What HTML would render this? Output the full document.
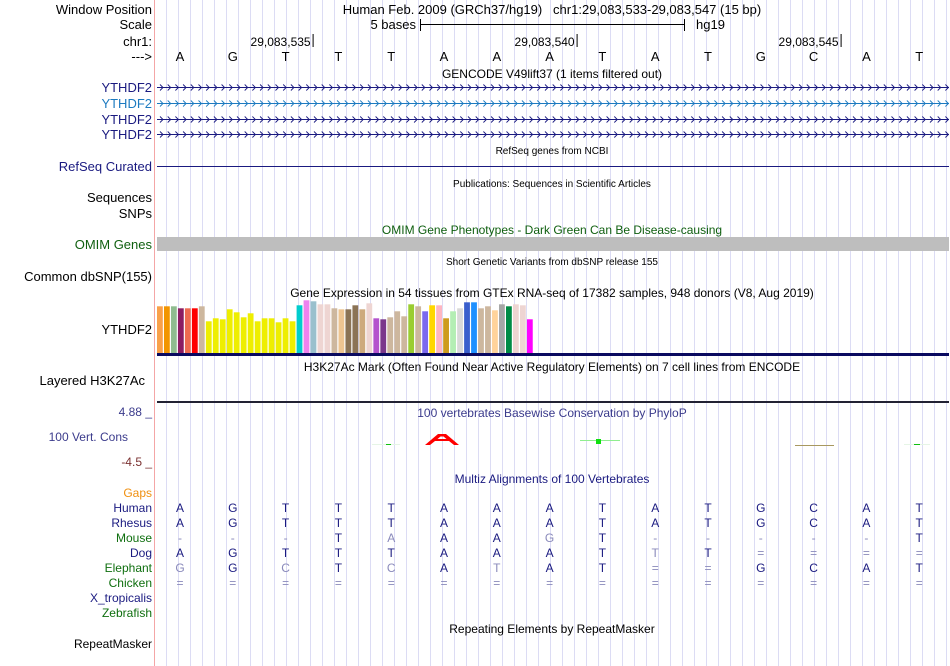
<!DOCTYPE html>
<html><head><meta charset="utf-8"><style>
body{margin:0;background:#fff;}
svg{display:block;font-family:"Liberation Sans",sans-serif;}
</style></head><body>
<svg id="cv" width="950" height="666" viewBox="0 0 950 666">
<g id="grid"></g>
<line x1="154.5" y1="0" x2="154.5" y2="666" stroke="#f4a6a6" stroke-width="1"/>
<g font-size="13" text-anchor="end">
<text x="152" y="14" fill="#000">Window Position</text>
<text x="152" y="29" fill="#000">Scale</text>
<text x="152" y="46" fill="#000">chr1:</text>
<text x="152" y="61" fill="#000">---&gt;</text>
<text x="152" y="92" fill="#1a1a80">YTHDF2</text>
<text x="152" y="108" fill="#1c7ac0">YTHDF2</text>
<text x="152" y="124" fill="#1a1a80">YTHDF2</text>
<text x="152" y="139" fill="#1a1a80">YTHDF2</text>
<text x="152" y="171" fill="#1a1a80">RefSeq Curated</text>
<text x="152" y="202" fill="#000">Sequences</text>
<text x="152" y="218" fill="#000">SNPs</text>
<text x="152" y="249" fill="#0f5f0f">OMIM Genes</text>
<text x="152" y="281" fill="#000">Common dbSNP(155)</text>
<text x="152" y="334" fill="#000">YTHDF2</text>
<text x="145" y="385" fill="#000">Layered H3K27Ac</text>
<text x="152" y="416" fill="#3b3b8c" font-size="12">4.88 _</text>
<text x="128" y="441" fill="#3b3b8c" font-size="12">100 Vert. Cons</text>
<text x="152" y="466" fill="#7a3030" font-size="12">-4.5 _</text>
<text x="152" y="497" fill="#f09010" font-size="12">Gaps</text>
<text x="152" y="512" fill="#1a1a80" font-size="12">Human</text>
<text x="152" y="527" fill="#1a1a80" font-size="12">Rhesus</text>
<text x="152" y="542" fill="#0f6f0f" font-size="12">Mouse</text>
<text x="152" y="557" fill="#1a1a80" font-size="12">Dog</text>
<text x="152" y="572" fill="#0f6f0f" font-size="12">Elephant</text>
<text x="152" y="587" fill="#0f6f0f" font-size="12">Chicken</text>
<text x="152" y="602" fill="#1a1a80" font-size="12">X_tropicalis</text>
<text x="152" y="617" fill="#0f6f0f" font-size="12">Zebrafish</text>
<text x="152" y="648" fill="#000" font-size="12">RepeatMasker</text>
</g>
<g font-size="13" text-anchor="middle">
<text x="552" y="14">Human Feb. 2009 (GRCh37/hg19)&#160;&#160;&#160;chr1:29,083,533-29,083,547 (15 bp)</text>
<text x="552" y="78" font-size="12">GENCODE V49lift37 (1 items filtered out)</text>
<text x="552" y="154" font-size="10">RefSeq genes from NCBI</text>
<text x="552" y="187" font-size="10">Publications: Sequences in Scientific Articles</text>
<text x="552" y="234" font-size="12" fill="#0f5f0f">OMIM Gene Phenotypes - Dark Green Can Be Disease-causing</text>
<text x="552" y="265" font-size="10">Short Genetic Variants from dbSNP release 155</text>
<text x="552" y="297" font-size="12">Gene Expression in 54 tissues from GTEx RNA-seq of 17382 samples, 948 donors (V8, Aug 2019)</text>
<text x="552" y="371" font-size="12">H3K27Ac Mark (Often Found Near Active Regulatory Elements) on 7 cell lines from ENCODE</text>
<text x="552" y="417" font-size="12" fill="#3b3b8c">100 vertebrates Basewise Conservation by PhyloP</text>
<text x="552" y="483" font-size="12" fill="#1a1a80">Multiz Alignments of 100 Vertebrates</text>
<text x="552" y="633" font-size="12">Repeating Elements by RepeatMasker</text>
</g>
<g font-size="13">
<text x="416" y="29" text-anchor="end">5 bases</text>
<line x1="420.5" y1="19" x2="420.5" y2="31" stroke="#000"/>
<line x1="420" y1="24.5" x2="684" y2="24.5" stroke="#000"/>
<line x1="684.5" y1="19" x2="684.5" y2="31" stroke="#000"/>
<text x="696" y="29">hg19</text>
</g>
<g id="ruler" font-size="12"></g>
<g id="bases" font-size="13" text-anchor="middle"></g>
<g id="genes"></g>
<line x1="157" y1="166.5" x2="949" y2="166.5" stroke="#1a1a80"/>
<rect x="157" y="237" width="792" height="14" fill="#bebebe"/>
<g id="gtex"></g>
<rect x="157" y="353" width="792" height="3" fill="#0a0a60"/>
<rect x="157" y="401" width="792" height="2" fill="#223"/>
<g>
<line x1="372" y1="444.5" x2="400" y2="444.5" stroke="#e6f5e6"/>
<line x1="386" y1="444.5" x2="391" y2="444.5" stroke="#10c010"/>
<path d="M425 445 L438 434 L446 434 L459 445 L454 445 L449 441 L435 441 L430 445 Z M437.5 439 L446.5 439 L443.5 436.5 L440.5 436.5 Z" fill="#f00" fill-rule="evenodd"/>
<line x1="580" y1="440.5" x2="620" y2="440.5" stroke="#90ee90"/>
<rect x="596" y="439" width="5" height="5" fill="#10e010"/>
<line x1="795" y1="445.5" x2="834" y2="445.5" stroke="#a89860"/>
<line x1="904" y1="444.5" x2="930" y2="444.5" stroke="#e6f5e6"/>
<line x1="914" y1="444.5" x2="920" y2="444.5" stroke="#10c010"/>
</g>
<g id="multiz" font-size="12" text-anchor="middle"></g>
</svg>
<script>
const NS="http://www.w3.org/2000/svg";
function mk(tag,attrs,parent){const e=document.createElementNS(NS,tag);for(const k in attrs)e.setAttribute(k,attrs[k]);parent.appendChild(e);return e;}
const grid=document.getElementById('grid');
for(let x=166.5;x<950;x+=12){const l=mk('line',{x1:x,y1:0,x2:x,y2:666,stroke:'#dcdcf4'},grid);

}
const bases=["A","G","T","T","T","A","A","A","T","A","T","G","C","A","T"];
const baseX=i=>180+52.8*i;
const bg=document.getElementById('bases');
bases.forEach((b,i)=>{const t=mk('text',{x:baseX(i),y:61},bg);t.textContent=b;

});
const rulerLabels=["29,083,535","29,083,540","29,083,545"];
const rulerIdx=[2,7,12];
const rg=document.getElementById('ruler');
rulerLabels.forEach((lab,i)=>{const x=baseX(rulerIdx[i])+27;
const t=mk('text',{x:x-2,y:46,'text-anchor':'end'},rg);t.textContent=lab;


mk('line',{x1:x+.5,y1:34,x2:x+.5,y2:47,stroke:'#000'},rg);});
const gg=document.getElementById('genes');
const geneY=[87,103,119,134];const geneC=['#1a1a80','#1c7ac0','#1a1a80','#1a1a80'];
geneY.forEach((y,i)=>{const g=mk('g',{},gg);


mk('line',{x1:157,y1:y+.5,x2:949,y2:y+.5,stroke:geneC[i]},g);
let d='';for(let x=160;x<949;x+=7.7){d+=`M${x.toFixed(1)} ${y-2.5} L${(x+3).toFixed(1)} ${y+.5} L${x.toFixed(1)} ${y+3.5} `;}
mk('path',{d:d,stroke:geneC[i],fill:'none','stroke-width':0.9},g);});
const gtexValues=[46.7,46.7,46.7,44.7,44.7,44.7,46.7,31.7,34.7,33.7,43.7,40.7,35.7,39.7,31.7,34.7,34.7,30.7,34.7,31.7,47.7,52.7,51.7,48.7,48.7,44.7,43.7,43.7,47.7,43.7,49.7,34.7,33.7,35.7,41.7,36.7,48.7,46.7,41.7,47.7,47.7,34.7,41.7,44.7,50.7,50.7,44.7,46.7,42.7,48.7,46.7,48.7,47.7,33.7];
const gtexColors=["#f9a04a","#f29500","#8fbc8f","#8b1c62","#ee6a50","#ff0000","#cdb79e","#eeee00","#eeee00","#eeee00","#eeee00","#eeee00","#eeee00","#eeee00","#eeee00","#eeee00","#eeee00","#eeee00","#eeee00","#eeee00","#00cdcd","#ee82ee","#9ac0cd","#eed5d2","#eed5d2","#cdb79e","#eec591","#8b7355","#8b7355","#cdaa7d","#eed5d2","#b452cd","#7a378b","#cdb79e","#cdb79e","#cdb79e","#9acd32","#cdb79e","#7b68ee","#ffd700","#ffb6c1","#cd9b1d","#b4eeb4","#d9d9d9","#3a5fcd","#1e90ff","#cdb79e","#cdb79e","#ffd39b","#a6a6a6","#008b45","#eed5d2","#eed5d2","#ff00ff"];
const gtexBase=353, gtexX=i=>157+i*6.98;
const gt=document.getElementById('gtex');
gtexValues.forEach((v,i)=>{const r=mk('rect',{x:gtexX(i).toFixed(2),y:gtexBase-v,width:5.8,height:v,fill:gtexColors[i]},gt);

});
const species=["Human","Rhesus","Mouse","Dog","Elephant","Chicken"];
const rowsSeq=[
"AGTTTAAATATGCAT",
"AGTTTAAATATGCAT",
"---TAAAGT-----T",
"AGTTTAAATTT====",
"GGCTCATAT==GCAT",
"==============="];
const mz=document.getElementById('multiz');
rowsSeq.forEach((s,r)=>{const y=512+15*r;
for(let i=0;i<15;i++){const c=s[i];const light=(c!==bases[i]);
const t=mk('text',{x:baseX(i),y:y,fill:light?'#8a8abb':'#1a1a80'},mz);t.textContent=c;

}});
</script>
</body></html>
